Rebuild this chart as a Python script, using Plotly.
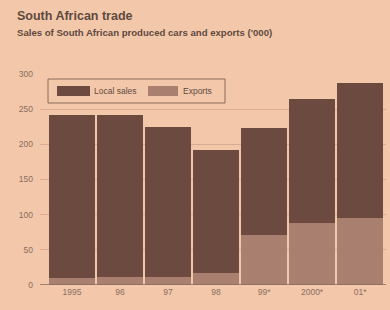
import plotly.graph_objects as go

years = ["1995", "96", "97", "98", "99*", "2000*", "01*"]
exports = [10, 11, 11, 17, 71, 88, 95]
local_sales = [232, 231, 214, 175, 152, 177, 192]
y_ticks = [0, 50, 100, 150, 200, 250, 300]

bg = "#f3c7aa"
dark = "#6c4a3f"
light = "#a97f70"
grid = "#dcab92"
txt = "#5e4a40"
font = "Liberation Sans"

fig = go.Figure()
fig.add_trace(go.Bar(x=years, y=exports, name="Exports", marker=dict(color=light, line=dict(width=0))))
fig.add_trace(go.Bar(x=years, y=local_sales, name="Local sales", marker=dict(color=dark, line=dict(width=0))))

L, R, T, B = 40, 4, 74, 25
fig.update_layout(
    width=390, height=310,
    margin=dict(l=L, r=R, t=T, b=B),
    paper_bgcolor=bg, plot_bgcolor=bg,
    barmode="stack", bargap=0.04,
    showlegend=False,
    font=dict(family=font, color=txt, size=8),
    xaxis=dict(type="category", range=[-0.667, 6.54], showgrid=False, ticks="",
               tickfont=dict(size=8.5, color="#8a6e60"), showline=False, zeroline=False),
    yaxis=dict(range=[0, 300], tickvals=y_ticks, showgrid=True, gridcolor=grid, gridwidth=1,
               tickfont=dict(size=8.5, color="#8a6e60"), zeroline=False, ticks="", ticklabelstandoff=6),
)

# baseline
fig.add_shape(type="line", xref="paper", yref="y", x0=0, x1=1, y0=0, y1=0,
              line=dict(color="#8a6a5a", width=1.5))

# title and subtitle
fig.add_annotation(text="<b>South African trade</b>", xref="paper", yref="paper",
                   x=-0.072, y=1.275, xanchor="left", yanchor="middle", showarrow=False,
                   font=dict(size=12.5, color=txt, family=font))
fig.add_annotation(text="<b>Sales of South African produced cars and exports ('000)</b>", xref="paper", yref="paper",
                   x=-0.072, y=1.197, xanchor="left", yanchor="middle", showarrow=False,
                   font=dict(size=9.6, color=txt, family=font))

# manual legend
plot_w = 390 - L - R
plot_h = 310 - T - B
def px(xp):
    return (xp - L) / plot_w
def py(yp):
    return (310 - B - yp) / plot_h

fig.add_shape(type="rect", xref="paper", yref="paper", x0=px(48), x1=px(225), y0=py(103), y1=py(79),
              line=dict(color="#8a6a5a", width=1), fillcolor=bg)
fig.add_shape(type="rect", xref="paper", yref="paper", x0=px(57), x1=px(90), y0=py(96), y1=py(86),
              line=dict(width=0), fillcolor=dark)
fig.add_shape(type="rect", xref="paper", yref="paper", x0=px(148), x1=px(178), y0=py(96), y1=py(86),
              line=dict(width=0), fillcolor=light)
fig.add_annotation(text="Local sales", xref="paper", yref="paper", x=px(92), y=py(91),
                   xanchor="left", yanchor="middle", showarrow=False, font=dict(size=8.5, color=txt))
fig.add_annotation(text="Exports", xref="paper", yref="paper", x=px(181), y=py(91),
                   xanchor="left", yanchor="middle", showarrow=False, font=dict(size=8.5, color=txt))

fig.write_html("out.html", config={"displayModeBar": False},
               post_script="document.body.style.margin='0';document.body.style.background='%s';" % bg)
